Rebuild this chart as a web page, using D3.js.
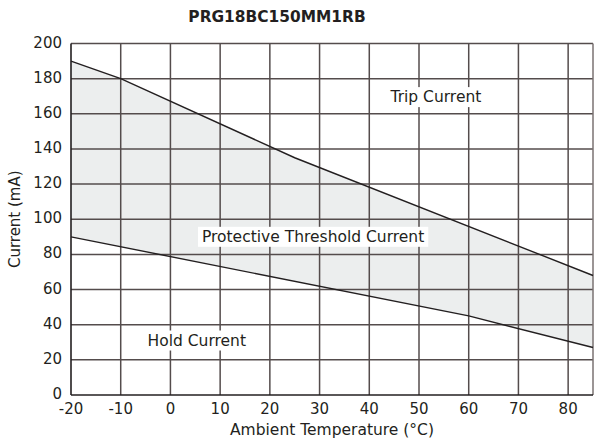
<!DOCTYPE html>
<html><head><meta charset="utf-8">
<script src="https://cdn.jsdelivr.net/npm/d3@7"></script>
<style>body{margin:0;background:#fff}svg{display:block}text{font-family:"DejaVu Sans",sans-serif;fill:#231f20}</style>
</head><body><svg id="c" width="597" height="445"></svg>
<script>
const title = "PRG18BC150MM1RB";
const xTicks = [-20,-10,0,10,20,30,40,50,60,70,80];
const yTicks = [0,20,40,60,80,100,120,140,160,180,200];
const tripTemp = [-20,-10,25,85];
const tripCurrent = [190,180,135,68];
const holdTemp = [-20,60,85];
const holdCurrent = [90,45,27];
const labels = [
  {text:"Trip Current", t:53.4, c:169.5},
  {text:"Protective Threshold Current", t:28.7, c:90},
  {text:"Hold Current", t:5.3, c:31}
];

const svg = d3.select("#c");
const m = {l:71, r:593, t:43.5, b:395};
const x = d3.scaleLinear().domain([-20,85]).range([m.l,m.r]);
const y = d3.scaleLinear().domain([0,200]).range([m.b,m.t]);

const trip = tripTemp.map((t,i)=>[t,tripCurrent[i]]);
const hold = holdTemp.map((t,i)=>[t,holdCurrent[i]]);
const interp = (pts,t)=>{for(let i=0;i<pts.length-1;i++){if(t>=pts[i][0]&&t<=pts[i+1][0]){const f=(t-pts[i][0])/(pts[i+1][0]-pts[i][0]);return pts[i][1]+f*(pts[i+1][1]-pts[i][1]);}}return pts[pts.length-1][1];};
const allT = Array.from(new Set([...tripTemp,...holdTemp])).sort((a,b)=>a-b);
const band = allT.map(t=>({t, hi:interp(trip,t), lo:interp(hold,t)}));

svg.append("path").datum(band)
  .attr("d", d3.area().x(d=>x(d.t)).y0(d=>y(d.lo)).y1(d=>y(d.hi)))
  .attr("fill","#eceeee");

// grid
const g = svg.append("g");
g.selectAll(".vx").data(xTicks.slice(1)).join("line")
  .attr("x1",d=>x(d)).attr("x2",d=>x(d)).attr("y1",m.t).attr("y2",m.b)
  .attr("stroke","#544c4c").attr("stroke-width",1.5);
g.selectAll(".hy").data(yTicks.slice(1)).join("line")
  .attr("x1",m.l).attr("x2",m.r).attr("y1",d=>y(d)).attr("y2",d=>y(d))
  .attr("stroke","#544c4c").attr("stroke-width",1.5);
g.append("line").attr("x1",m.r).attr("x2",m.r).attr("y1",m.t).attr("y2",m.b)
  .attr("stroke","#7a7272").attr("stroke-width",1.5);

// lines
const line = d3.line().x(d=>x(d[0])).y(d=>y(d[1]));
svg.append("path").datum(trip).attr("d",line).attr("fill","none").attr("stroke","#231f20").attr("stroke-width",1.4);
svg.append("path").datum(hold).attr("d",line).attr("fill","none").attr("stroke","#231f20").attr("stroke-width",1.4);

// labels with white boxes
labels.forEach(l=>{
  const tx = svg.append("text").attr("x",x(l.t)).attr("y",y(l.c)).attr("text-anchor","middle")
    .attr("dominant-baseline","central").attr("font-size",15.5).text(l.text);
  const bb = tx.node().getBBox();
  svg.insert("rect", () => tx.node()).attr("x",bb.x-4).attr("y",bb.y-1).attr("width",bb.width+8).attr("height",bb.height+2).attr("fill","#fff");
});

// axes
svg.append("line").attr("x1",m.l).attr("x2",m.l).attr("y1",m.t).attr("y2",m.b).attr("stroke","#231f20").attr("stroke-width",1.6);
svg.append("line").attr("x1",m.l).attr("x2",m.r).attr("y1",m.b).attr("y2",m.b).attr("stroke","#231f20").attr("stroke-width",1.6);

svg.selectAll(".xt").data(xTicks).join("text")
  .attr("x",d=>x(d)).attr("y",m.b+14).attr("text-anchor","middle").attr("dominant-baseline","central")
  .attr("font-size",15).text(d=>d);
svg.selectAll(".yt").data(yTicks).join("text")
  .attr("x",m.l-9).attr("y",d=>y(d)-1).attr("text-anchor","end").attr("dominant-baseline","central")
  .attr("font-size",15).text(d=>d);

svg.append("text").attr("x",332).attr("y",430).attr("text-anchor","middle").attr("dominant-baseline","central")
  .attr("font-size",15.5).text("Ambient Temperature (°C)");
svg.append("text").attr("transform",`translate(15,${(m.t+m.b)/2}) rotate(-90)`).attr("text-anchor","middle").attr("dominant-baseline","central")
  .attr("font-size",15).text("Current (mA)");
svg.append("text").attr("x",277).attr("y",17).attr("text-anchor","middle").attr("dominant-baseline","central")
  .attr("font-size",15.4).attr("font-weight","bold").text(title);
</script></body></html>
